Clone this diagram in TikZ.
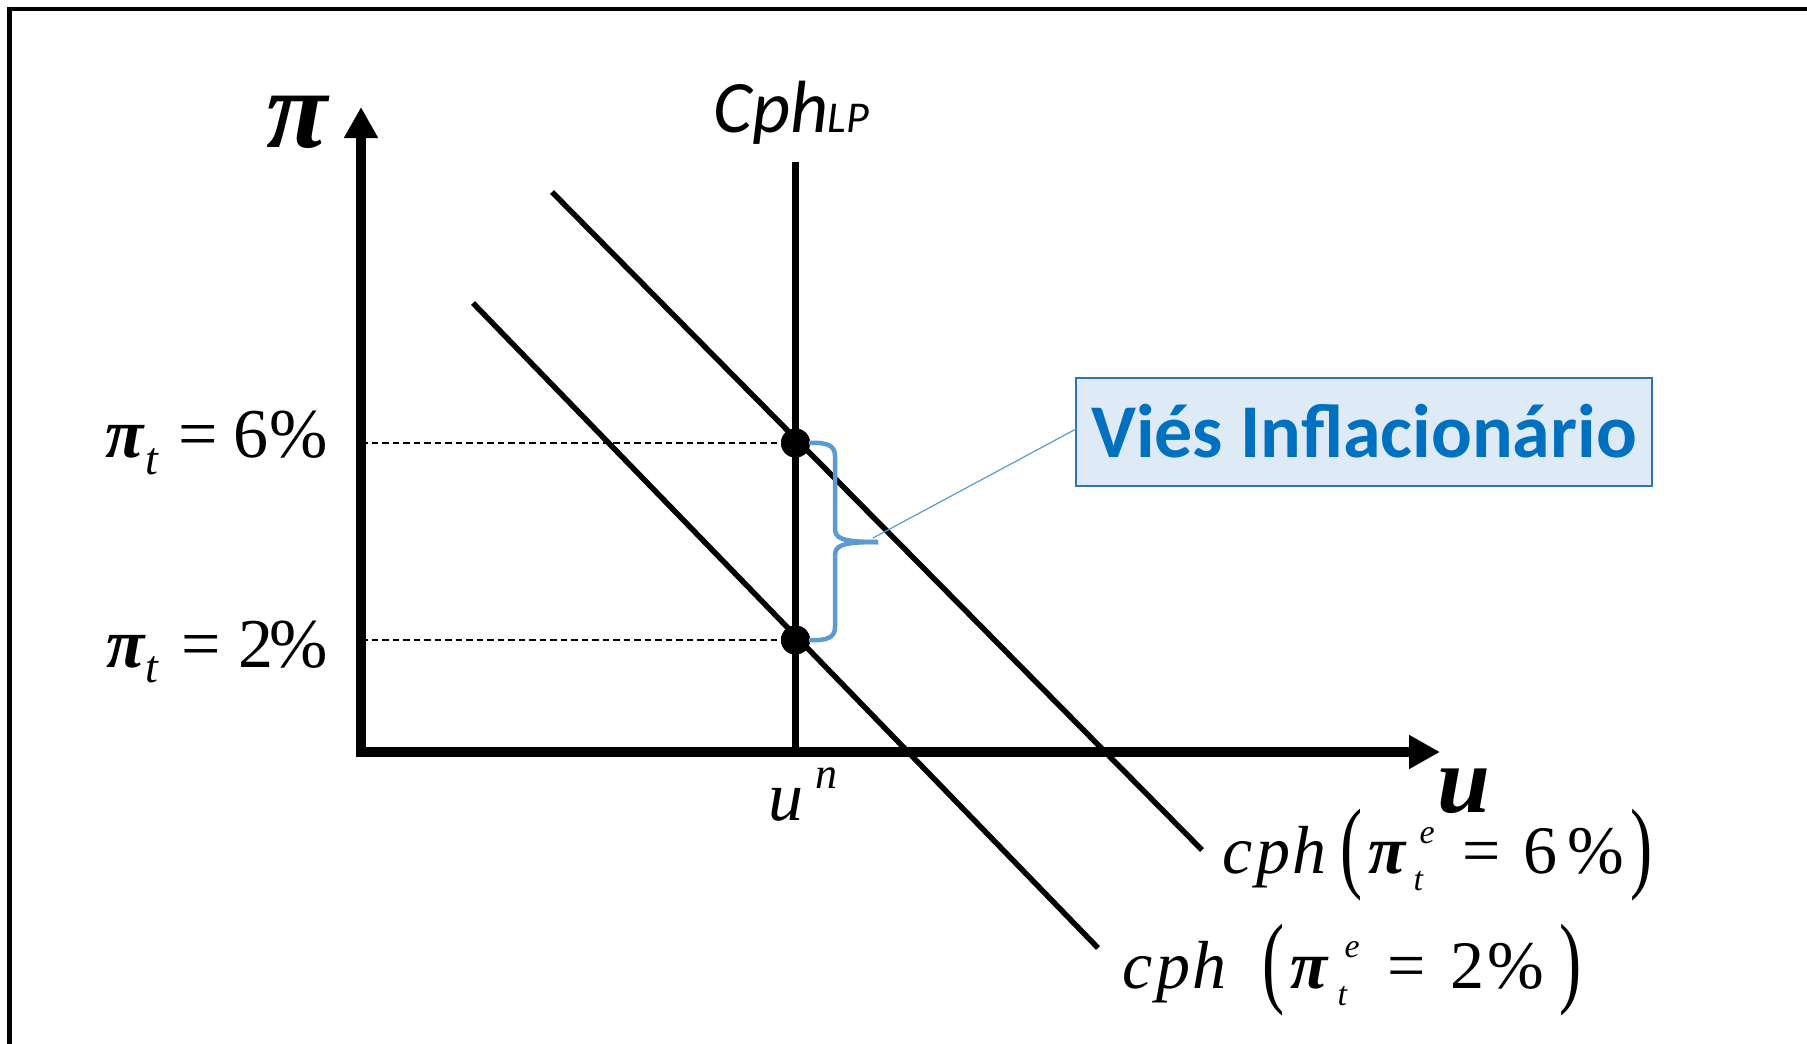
\documentclass[tikz,border=0pt]{standalone}
\usepackage{graphicx}
\usepackage{fontspec}
\newfontfamily\tms{Liberation Serif}
\newfontfamily\calfont{Carlito}
\usetikzlibrary{arrows.meta}
\definecolor{bracecol}{HTML}{5B9BD5}
\definecolor{boxfill}{HTML}{DEEBF7}
\definecolor{boxline}{HTML}{2E75B6}
\definecolor{txtblue}{HTML}{0070C0}
\newcommand\putat[2]{\makebox[0pt][l]{\hspace*{#1}#2}}
\newcommand\fsz[1]{\fontsize{#1}{#1}\selectfont}
\newcommand\bigparen[1]{\raisebox{-6.5pt}{\upshape\fsz{70}\scalebox{0.95}[1.45]{#1}}}
\begin{document}
\begin{tikzpicture}[x=1pt,y=-1pt,
  lbl/.style={inner sep=0pt, anchor=base west, font=\tms},
  frameline/.style={line width=4.7pt},
  axes/.style={line width=10pt, {Triangle[length=31pt,width=32pt]}-{Triangle[length=31pt,width=32pt]}},
  lpline/.style={line width=6.5pt},
  cphline/.style={line width=5.5pt},
  dashline/.style={line width=1.5pt, dash pattern=on 6.5pt off 4pt},
  dot/.style={circle, fill=black, inner sep=0pt, minimum size=29pt},
  bracestyle/.style={draw=bracecol, line width=4.5pt},
  callout/.style={draw=bracecol, line width=1.2pt},
  vbox/.style={draw=boxline, fill=boxfill, line width=1.6pt, minimum width=576pt, minimum height=108pt,
     inner sep=0pt, text=txtblue, font=\calfont\bfseries\fsz{76}, text height=50pt, text depth=0pt}]
\useasboundingbox[fill=white] (0,0) rectangle (1807,1044);
% frame
\coordinate (fBL) at (9.5,1044);
\coordinate (fTL) at (9.5,9);
\coordinate (fTR) at (1807,9);
\draw[frameline] (fBL) -- (fTL) -- (fTR);
% key coordinates
\coordinate (O) at (361,752);
\coordinate (ytip) at (361,107);
\coordinate (xtip) at (1440,752);
\coordinate (y6) at (361,443);
\coordinate (y2) at (361,640);
\coordinate (lpTop) at (795.5,162);
\coordinate (lpBot) at (795.5,752);
\coordinate (a1) at (552,192);
\coordinate (a2) at (1202,850);
\coordinate (b1) at (473,303);
\coordinate (b2) at (1098,948);
% dots
\node[dot] (d6) at (795.5,443) {};
\node[dot] (d2) at (795.5,640) {};
% dashed guides
\draw[dashline] (y6) -- (d6);
\draw[dashline] (y2) -- (d2);
% curves
\draw[lpline] (lpTop) -- (lpBot);
\draw[cphline] (a1) -- (a2);
\draw[cphline] (b1) -- (b2);
% axes
\draw[axes] (ytip) -- (O) -- (xtip);
% dots on top
\node[dot] at (d6) {};
\node[dot] at (d2) {};
% brace
\coordinate (btip) at (878,542);
\draw[bracestyle] (809,443) .. controls (828,442) and (835,446) .. (835,456) -- (835,528)
   .. controls (835,538) and (840,542) .. (btip);
\draw[bracestyle] (809,640) .. controls (828,641) and (835,637) .. (835,627) -- (835,556)
   .. controls (835,546) and (840,542) .. (btip);
% box
\node[vbox] (vies) at (1364,432) {Viés Inflacionário};
\coordinate (cstart) at (873,538);
\coordinate (cend) at (1076,429);
\draw[callout] (cstart) -- (cend);
% labels
\node[lbl] (pilab) at (266,147) {\fsz{112}\bfseries\itshape π};
\node[lbl] (ulab) at (1437,812) {\fsz{95}\bfseries\itshape u};
\node[lbl, font=\calfont] (cphlp) at (713,132) {\itshape\fsz{74}\putat{0pt}{Cph}\putat{114pt}{\fsz{44}LP}};
\node[lbl] (un) at (768,820) {\fsz{70}\itshape\putat{0pt}{u}\putat{47pt}{\raisebox{32pt}{\fsz{44}n}}};
\node[lbl] (p6) at (105,457) {\fsz{70}\putat{0pt}{\bfseries\itshape π}\putat{40pt}{\raisebox{-17pt}{\fsz{46}\itshape t}}\putat{73pt}{=}\putat{128pt}{6}\putat{164pt}{\%}};
\node[lbl] (p2) at (106,667) {\fsz{70}\putat{0pt}{\bfseries\itshape π}\putat{39pt}{\raisebox{-15pt}{\fsz{46}\itshape t}}\putat{75pt}{=}\putat{132pt}{2}\putat{163pt}{\%}};
\node[lbl] (c6) at (1222,873) {\fsz{68}\itshape\putat{0pt}{c}\putat{34pt}{p}\putat{70pt}{h}\putat{118pt}{\bigparen{(}}\putat{146pt}{\bfseries π}\putat{191pt}{\raisebox{-17pt}{\fsz{34}t}}\putat{197pt}{\raisebox{30pt}{\fsz{34}e}}\putat{240pt}{\upshape =}\putat{301pt}{\upshape 6}\putat{345pt}{\upshape\%}\putat{408pt}{\bigparen{)}}};
\node[lbl] (c2) at (1122,988) {\fsz{68}\itshape\putat{0pt}{c}\putat{34pt}{p}\putat{70pt}{h}\putat{140pt}{\bigparen{(}}\putat{168pt}{\bfseries π}\putat{215pt}{\raisebox{-17pt}{\fsz{34}t}}\putat{222pt}{\raisebox{31pt}{\fsz{34}e}}\putat{265pt}{\upshape =}\putat{328pt}{\upshape 2}\putat{365pt}{\upshape\%}\putat{437pt}{\bigparen{)}}};
\end{tikzpicture}
\end{document}
